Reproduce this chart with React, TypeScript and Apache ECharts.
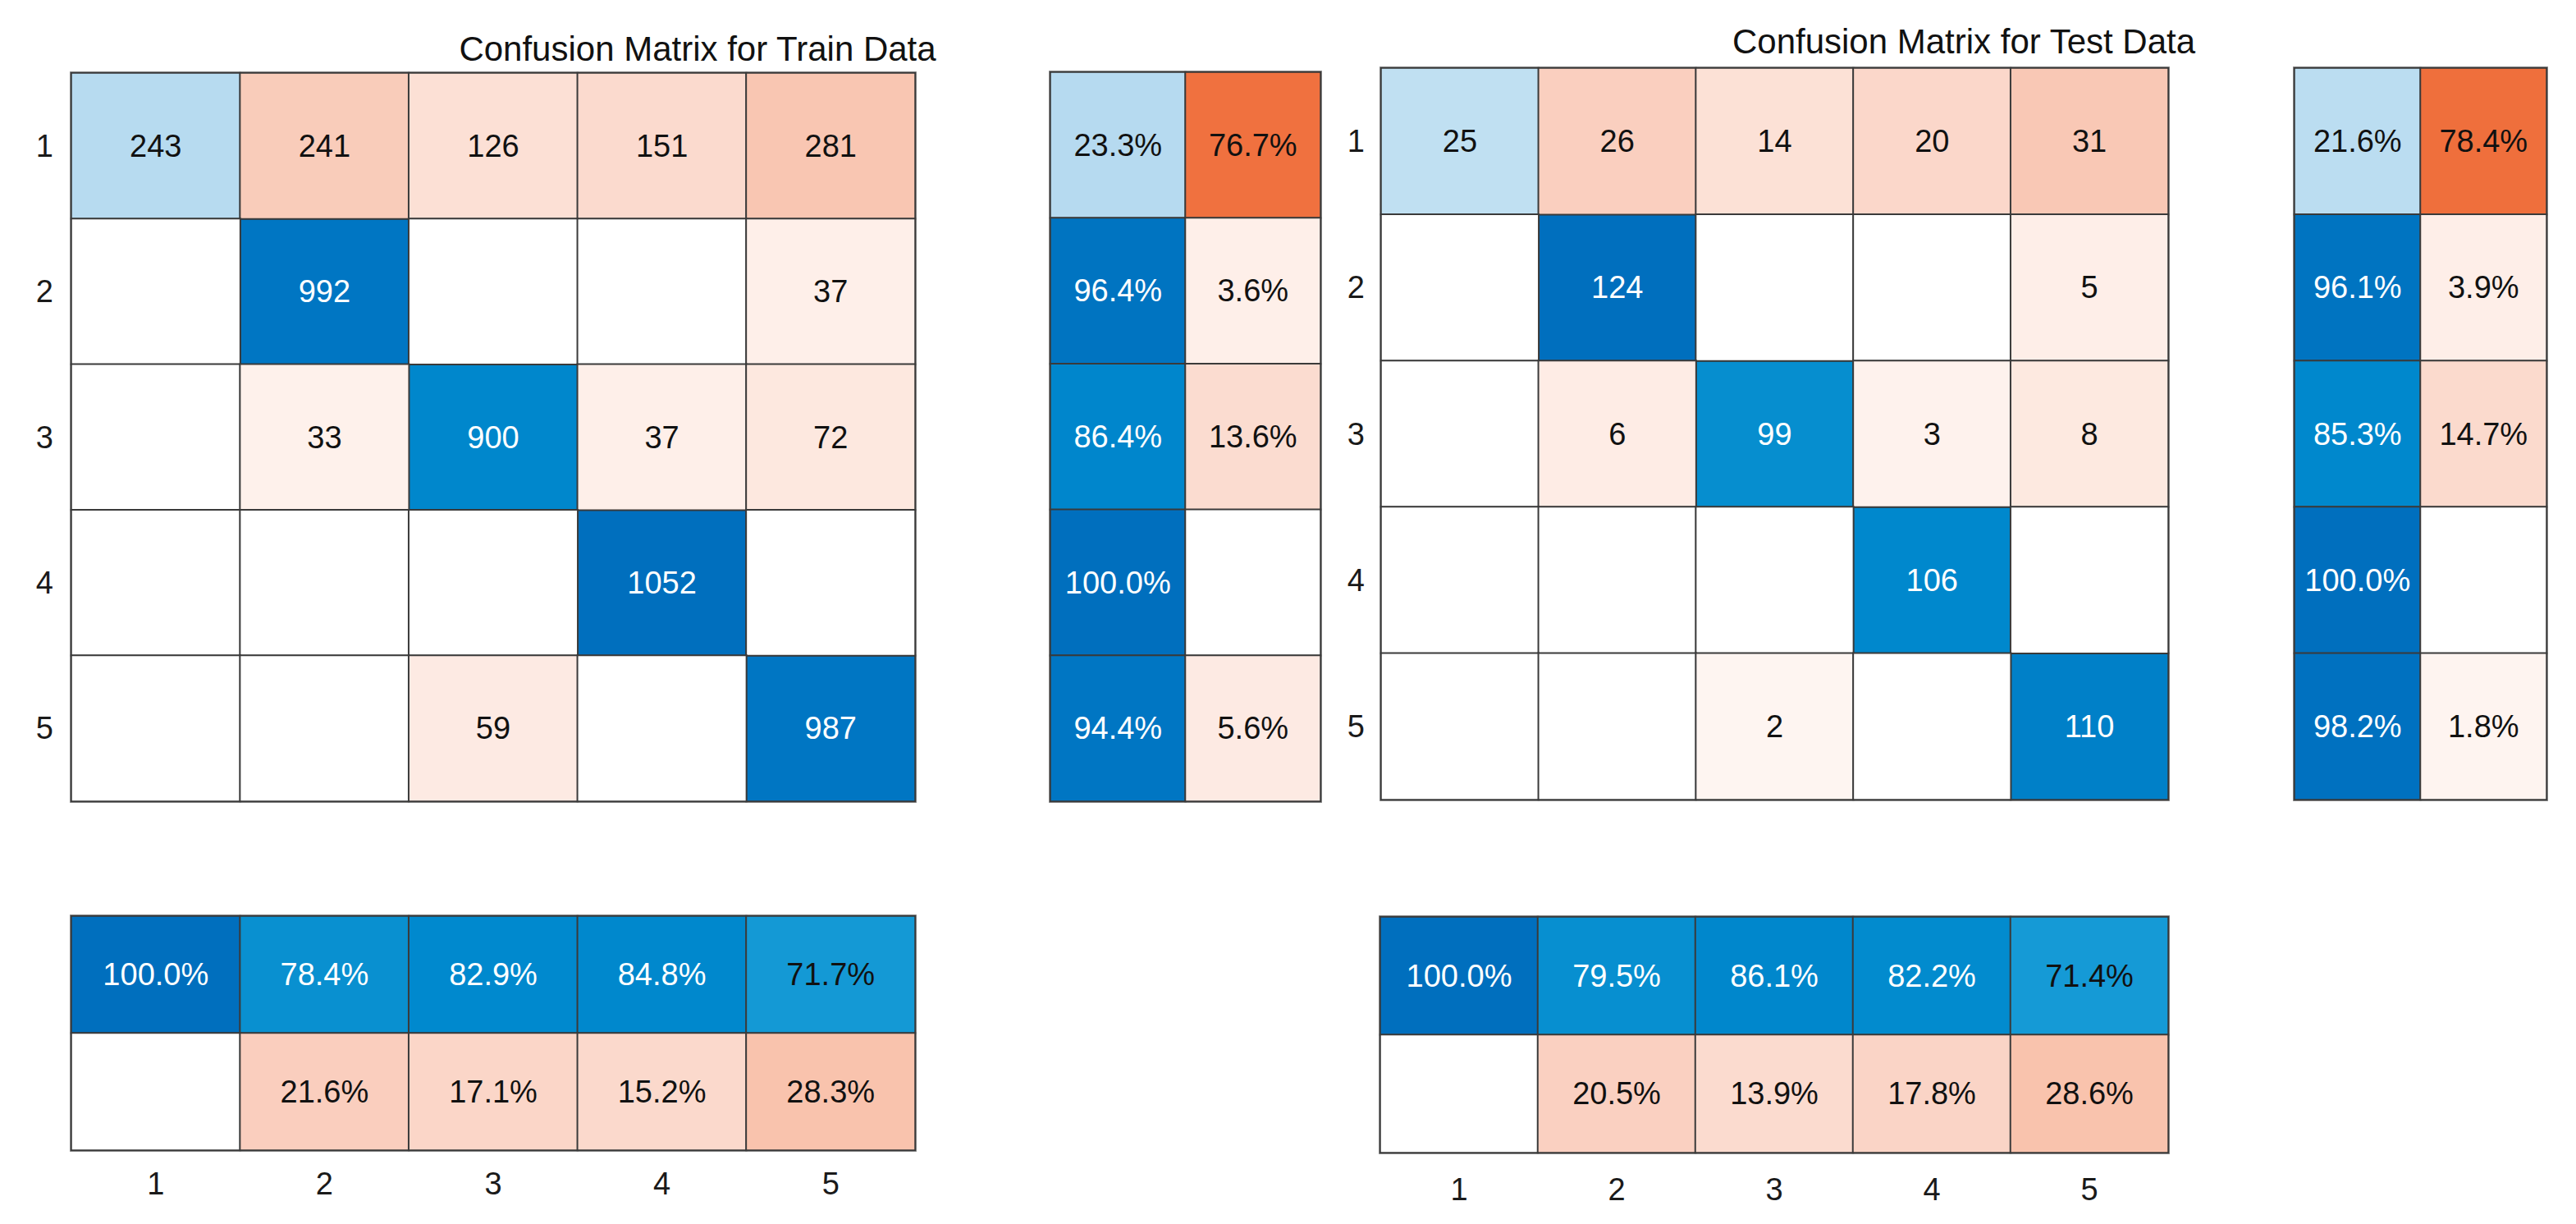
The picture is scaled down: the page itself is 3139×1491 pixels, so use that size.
import React, { useEffect, useRef } from "react";
import * as echarts from "echarts";

// ---------- data ----------
const CLASSES = ["1", "2", "3", "4", "5"];
const SUMMARY_CATS = ["Correct", "Incorrect"];
const TRAIN_TITLE = "Confusion Matrix for Train Data";
const TEST_TITLE = "Confusion Matrix for Test Data";

const TRAIN_COUNTS = [
  [243, 241, 126, 151, 281],
  [0, 992, 0, 0, 37],
  [0, 33, 900, 37, 72],
  [0, 0, 0, 1052, 0],
  [0, 0, 59, 0, 987],
];
const TRAIN_ROW_PCT = [
  [23.3, 76.7],
  [96.4, 3.6],
  [86.4, 13.6],
  [100.0, 0],
  [94.4, 5.6],
];
const TRAIN_COL_PCT = [
  [100.0, 78.4, 82.9, 84.8, 71.7],
  [0, 21.6, 17.1, 15.2, 28.3],
];

const TEST_COUNTS = [
  [25, 26, 14, 20, 31],
  [0, 124, 0, 0, 5],
  [0, 6, 99, 3, 8],
  [0, 0, 0, 106, 0],
  [0, 0, 2, 0, 110],
];
const TEST_ROW_PCT = [
  [21.6, 78.4],
  [96.1, 3.9],
  [85.3, 14.7],
  [100.0, 0],
  [98.2, 1.8],
];
const TEST_COL_PCT = [
  [100.0, 79.5, 86.1, 82.2, 71.4],
  [0, 20.5, 13.9, 17.8, 28.6],
];

// ---------- colour ramps (style) ----------
const BLUE_ANCHORS: [number, string][] = [
  [0, "#FFFFFF"],
  [0.23, "#B7DBF0"],
  [0.5, "#60B2E0"],
  [0.72, "#1399D5"],
  [0.78, "#0A91D0"],
  [0.83, "#0089CE"],
  [0.86, "#0087CC"],
  [0.89, "#007FC8"],
  [0.94, "#0076C3"],
  [1, "#006FBE"],
];
const ORANGE_ANCHORS: [number, string][] = [
  [0, "#FFFFFF"],
  [0.02, "#FEF3EE"],
  [0.04, "#FEEEE8"],
  [0.06, "#FDE9E1"],
  [0.12, "#FCE0D5"],
  [0.15, "#FBD9CC"],
  [0.2, "#FAD1C2"],
  [0.25, "#F9C8B5"],
  [0.29, "#F9C2AC"],
  [0.77, "#F0703E"],
  [1, "#DC5420"],
];

function hexToRgb(h: string) {
  const n = parseInt(h.slice(1), 16);
  return [(n >> 16) & 255, (n >> 8) & 255, n & 255];
}
function rgbToHex(c: number[]) {
  return "#" + c.map((v) => Math.round(v).toString(16).padStart(2, "0")).join("");
}
function ramp(anchors: [number, string][], n = 101) {
  const out: string[] = [];
  for (let i = 0; i < n; i++) {
    const t = i / (n - 1);
    let k = 0;
    while (k < anchors.length - 2 && t > anchors[k + 1][0]) k++;
    const [t0, c0] = anchors[k];
    const [t1, c1] = anchors[k + 1];
    const f = Math.min(1, Math.max(0, (t - t0) / (t1 - t0)));
    const a = hexToRgb(c0);
    const b = hexToRgb(c1);
    out.push(rgbToHex(a.map((v, j) => v + (b[j] - v) * f)));
  }
  return out;
}
const BLUE_RAMP = ramp(BLUE_ANCHORS);
const ORANGE_RAMP = ramp(ORANGE_ANCHORS);

const FONT = "'Liberation Sans', Arial, Helvetica, sans-serif";
const CELL_FONT = 38;
const BORDER = "#3a3a3a";

function buildOption() {
  const grid: any[] = [];
  const xAxis: any[] = [];
  const yAxis: any[] = [];
  const series: any[] = [];
  const visualMap: any[] = [];

  const hiddenAxis = (data: string[], gridIndex: number, inverse = false) => ({
    type: "category",
    data,
    gridIndex,
    inverse,
    axisLine: { show: false },
    axisTick: { show: false },
    axisLabel: { show: false },
    splitLine: { show: false },
  });
  const labelAxis = (data: string[], gridIndex: number, inverse: boolean, margin: number) => ({
    type: "category",
    data,
    gridIndex,
    inverse,
    axisLine: { show: false },
    axisTick: { show: false },
    axisLabel: { show: true, margin, fontSize: CELL_FONT, fontFamily: FONT, color: "#1a1a1a" },
    splitLine: { show: false },
  });

  const cell = (x: number, y: number, v: number, blue: boolean, max: number) => ({
    value: [x, y, v],
    label: { color: blue && v / max > 0.75 ? "#FFFFFF" : "#111111" },
  });

  const heat = (idx: number, data: any[], pct: boolean) => ({
    type: "heatmap",
    xAxisIndex: idx,
    yAxisIndex: idx,
    data,
    itemStyle: { borderColor: BORDER, borderWidth: 2 },
    emphasis: { disabled: true },
    label: {
      show: true,
      fontSize: CELL_FONT,
      fontFamily: FONT,
      formatter: (p: any) => {
        const v = p.value[2];
        if (!v) return "";
        return pct ? `${v.toFixed(1)}%` : `${v}`;
      },
    },
  });

  const blocks = [
    {
      counts: TRAIN_COUNTS, rowPct: TRAIN_ROW_PCT, colPct: TRAIN_COL_PCT,
      main: { left: 87, top: 89, width: 1028, height: 887 },
      row: { left: 1280, top: 88, width: 329, height: 888 },
      col: { left: 87, top: 1116, width: 1028, height: 285 },
      yMargin: 22, xMargin: 22,
    },
    {
      counts: TEST_COUNTS, rowPct: TEST_ROW_PCT, colPct: TEST_COL_PCT,
      main: { left: 1683, top: 83, width: 959, height: 891 },
      row: { left: 2796, top: 83, width: 307, height: 891 },
      col: { left: 1682, top: 1117, width: 960, height: 287 },
      yMargin: 20, xMargin: 26,
    },
  ];

  blocks.forEach((b) => {
    const maxCount = Math.max(...b.counts.flat());
    const base = grid.length;
    const gridStyle = { show: true, borderColor: "#9a9a9a", borderWidth: 4, backgroundColor: "transparent" };
    grid.push({ ...b.main, ...gridStyle });
    grid.push({ ...b.row, ...gridStyle });
    grid.push({ ...b.col, ...gridStyle });

    // main matrix
    xAxis.push(hiddenAxis(CLASSES, base));
    yAxis.push(labelAxis(CLASSES, base, true, b.yMargin));
    // row summary
    xAxis.push(hiddenAxis(SUMMARY_CATS, base + 1));
    yAxis.push(hiddenAxis(CLASSES, base + 1, true));
    // column summary
    xAxis.push(labelAxis(CLASSES, base + 2, false, b.xMargin));
    yAxis.push(hiddenAxis(SUMMARY_CATS, base + 2, true));

    const mainDiag: any[] = [];
    const mainOff: any[] = [];
    b.counts.forEach((row, r) =>
      row.forEach((v, c) => {
        if (r === c) mainDiag.push(cell(c, r, v, true, maxCount));
        else mainOff.push(cell(c, r, v, false, maxCount));
      })
    );
    const rowBlue: any[] = [];
    const rowOrange: any[] = [];
    b.rowPct.forEach((row, r) => {
      rowBlue.push(cell(0, r, row[0], true, 100));
      rowOrange.push(cell(1, r, row[1], false, 100));
    });
    const colBlue: any[] = [];
    const colOrange: any[] = [];
    b.colPct[0].forEach((v, c) => colBlue.push(cell(c, 0, v, true, 100)));
    b.colPct[1].forEach((v, c) => colOrange.push(cell(c, 1, v, false, 100)));

    const s0 = series.length;
    series.push(heat(base, mainDiag, false));
    series.push(heat(base, mainOff, false));
    series.push(heat(base + 1, rowBlue, true));
    series.push(heat(base + 1, rowOrange, true));
    series.push(heat(base + 2, colBlue, true));
    series.push(heat(base + 2, colOrange, true));

    const vm = (seriesIndex: number[], max: number, colors: string[]) => ({
      type: "continuous",
      show: false,
      min: 0,
      max,
      dimension: 2,
      seriesIndex,
      inRange: { color: colors },
    });
    visualMap.push(vm([s0], maxCount, BLUE_RAMP));
    visualMap.push(vm([s0 + 1], maxCount, ORANGE_RAMP));
    visualMap.push(vm([s0 + 2, s0 + 4], 100, BLUE_RAMP));
    visualMap.push(vm([s0 + 3, s0 + 5], 100, ORANGE_RAMP));
  });

  return {
    animation: false,
    backgroundColor: "#FFFFFF",
    title: [
      {
        text: TRAIN_TITLE,
        left: 845,
        top: 33,
        textAlign: "center",
        textStyle: { fontSize: 42, fontWeight: "normal", fontFamily: FONT, color: "#111" },
      },
      {
        text: TEST_TITLE,
        left: 2388,
        top: 24,
        textAlign: "center",
        textStyle: { fontSize: 42, fontWeight: "normal", fontFamily: FONT, color: "#111" },
      },
    ],
    grid,
    xAxis,
    yAxis,
    visualMap,
    series,
  };
}

export default function App() {
  const ref = useRef<HTMLDivElement>(null);
  useEffect(() => {
    if (!ref.current) return;
    const chart = echarts.init(ref.current, undefined, { renderer: "svg" });
    chart.setOption(buildOption() as any);
    return () => chart.dispose();
  }, []);
  return (
    <div
      ref={ref}
      style={{ position: "absolute", left: 0, top: 0, width: 3139, height: 1491, background: "#fff" }}
    />
  );
}
